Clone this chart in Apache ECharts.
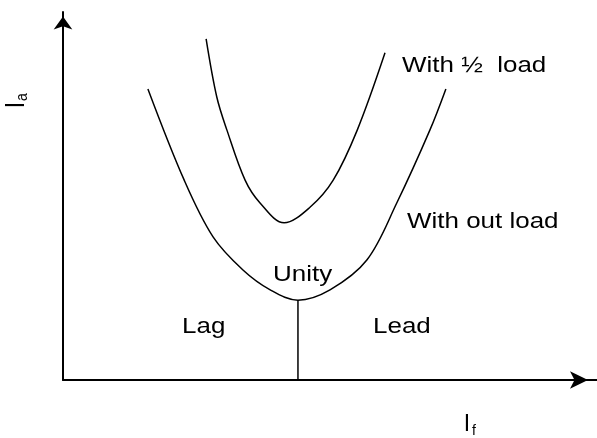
<!DOCTYPE html>
<html>
<head>
<meta charset="utf-8">
<script src="https://cdn.jsdelivr.net/npm/echarts@6/dist/echarts.min.js"></script>
<style>
  html, body { margin: 0; padding: 0; background: #fff; }
  #root { width: 597px; height: 438px; }
</style>
</head>
<body>
<div id="root"></div>
<script>
// V-curves (x = field current, y = armature current, 0..100)
const noLoadX = [15.9, 22.7, 28.1, 33.7, 38.8, 44.0, 50.0, 56.9, 62.5, 68.7, 71.7]
const noLoadY = [79.1, 54.3, 38.9, 29.9, 24.5, 21.7, 24.5, 32.6, 48.1, 67.9, 79.1]

const halfLoadX = [26.8, 28.8, 30.7, 34.1, 36.9, 41.4, 46.3, 50.6, 55.1, 60.3]
const halfLoadY = [92.7, 76.9, 67.9, 54.3, 48.1, 42.7, 47.0, 54.3, 67.9, 88.9]

// unity power factor line, from the axis up to the bottom of the no-load curve
const unityX = [44.0, 44.0]
const unityY = [0, 21.7]

const pairs = (xs, ys) => xs.map((x, i) => [x, ys[i]])

const font = '"Liberation Sans", Arial, sans-serif'
const stretch = 1.18

const label = (text, x, y) => ({
    type: 'text',
    x: x,
    y: y,
    scaleX: stretch,
    style: {
        text: text,
        fontSize: 22,
        fontFamily: font,
        fill: '#000',
        align: 'left',
        verticalAlign: 'middle'
    }
})

const chart = echarts.init(document.getElementById('root'))

const curveStyle = { color: '#000', width: 1.5 }

chart.setOption({
    animation: false,
    backgroundColor: '#fff',
    grid: { left: 63, right: 0, top: 12, bottom: 58 },
    xAxis: {
        type: 'value',
        min: 0,
        max: 100,
        axisLine: {
            onZero: false,
            symbol: ['none', 'arrow'],
            symbolSize: [13, 18],
            symbolOffset: [0, -9],
            lineStyle: { color: '#000', width: 2 }
        },
        axisTick: { show: false },
        axisLabel: { show: false },
        splitLine: { show: false }
    },
    yAxis: {
        type: 'value',
        min: 0,
        max: 100,
        axisLine: {
            show: true,
            onZero: false,
            symbol: ['none', 'arrow'],
            symbolSize: [14, 13],
            symbolOffset: [0, -4.5],
            lineStyle: { color: '#000', width: 2 }
        },
        axisTick: { show: false },
        axisLabel: { show: false },
        splitLine: { show: false }
    },
    series: [
        {
            name: 'With out load',
            type: 'line',
            smooth: 0.35,
            symbol: 'none',
            lineStyle: curveStyle,
            data: pairs(noLoadX, noLoadY)
        },
        {
            name: 'With ½ load',
            type: 'line',
            smooth: 0.35,
            symbol: 'none',
            lineStyle: curveStyle,
            data: pairs(halfLoadX, halfLoadY)
        },
        {
            name: 'Unity',
            type: 'line',
            symbol: 'none',
            lineStyle: curveStyle,
            data: pairs(unityX, unityY)
        }
    ],
    graphic: [
        label('With ½  load', 402, 66),
        label('With out load', 407, 222),
        label('Unity', 273, 275),
        label('Lag', 182, 327),
        label('Lead', 373, 327),
        // I_f under the x axis
        {
            type: 'text',
            x: 467,
            y: 425,
            style: { text: 'I', fontSize: 23, fontFamily: font, fill: '#000', align: 'center', verticalAlign: 'middle' }
        },
        {
            type: 'text',
            x: 474,
            y: 431,
            style: { text: 'f', fontSize: 14, fontFamily: font, fill: '#000', align: 'center', verticalAlign: 'middle' }
        },
        // I_a, turned to read upwards
        {
            type: 'group',
            x: 26,
            y: 105,
            rotation: Math.PI / 2,
            scaleY: stretch,
            children: [
                {
                    type: 'text',
                    x: 0,
                    y: -8,
                    style: { text: 'I', fontSize: 23, fontFamily: font, fill: '#000', align: 'center', verticalAlign: 'middle' }
                },
                {
                    type: 'text',
                    x: 8,
                    y: -3,
                    style: { text: 'a', fontSize: 14, fontFamily: font, fill: '#000', align: 'center', verticalAlign: 'middle' }
                }
            ]
        }
    ]
})
</script>
</body>
</html>
